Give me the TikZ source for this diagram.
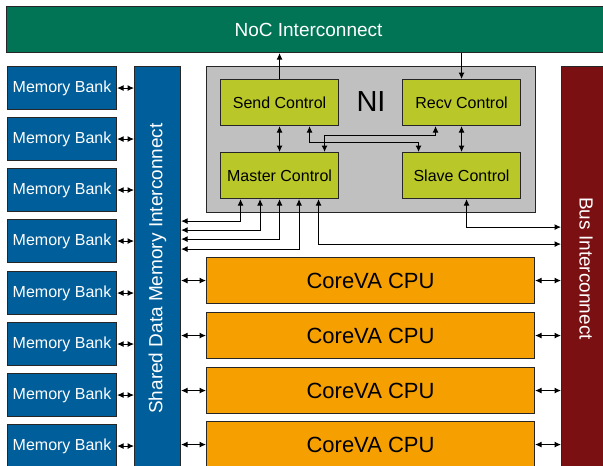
\documentclass[tikz,border=0pt]{standalone}
\usepackage{fontspec}
\setmainfont{Liberation Sans}
\setsansfont{Liberation Sans}
\usepackage{tikz}
\usetikzlibrary{arrows.meta,positioning,calc}
\definecolor{nocgreen}{RGB}{0,116,84}
\definecolor{bankblue}{RGB}{0,94,154}
\definecolor{busred}{RGB}{122,16,18}
\definecolor{nigray}{RGB}{192,192,192}
\definecolor{ctrlgreen}{RGB}{185,200,40}
\definecolor{cpuorange}{RGB}{245,160,0}
\tikzset{
  block/.style = {draw=black!85, line width=1.1pt, inner sep=0pt, anchor=north west, align=center},
  bank/.style = {block, fill=bankblue, text=white, minimum width=109pt, minimum height=43pt, font=\sffamily\fontsize{16}{19}\selectfont},
  ctrl/.style = {block, fill=ctrlgreen, minimum width=118pt, minimum height=46pt, font=\sffamily\fontsize{16}{19}\selectfont},
  cpu/.style = {block, fill=cpuorange, minimum width=328pt, minimum height=46pt, font=\sffamily\fontsize{22}{26}\selectfont},
  bigtext/.style = {font=\sffamily\fontsize{19}{23}\selectfont, text=white, inner sep=0pt},
}

\begin{document}
\begin{tikzpicture}[x=1pt, y=-1pt, >={Latex[length=6.5pt,width=6pt]}, line width=1pt]
\useasboundingbox (0,0) rectangle (603,466);

% interconnects
\node[block, fill=nocgreen, minimum width=604pt, minimum height=46pt, text=white, font=\sffamily\fontsize{19}{23}\selectfont] (noc) at (6,6) {NoC Interconnect};
\node[block, fill=bankblue, minimum width=46pt, minimum height=404pt] (shared) at (134,66) {};
\node[bigtext, rotate=90] (sharedtext) at (shared.center) {Shared Data Memory Interconnect};
\node[block, fill=busred, minimum width=49pt, minimum height=404pt] (bus) at (561,66) {};
\node[bigtext, rotate=-90] (bustext) at (bus.center) {Bus Interconnect};

% memory banks
\node[bank] (bank1) at (7,66) {Memory Bank};
\node[bank] (bank2) at (7,117) {Memory Bank};
\node[bank] (bank3) at (7,168) {Memory Bank};
\node[bank] (bank4) at (7,219) {Memory Bank};
\node[bank] (bank5) at (7,271) {Memory Bank};
\node[bank] (bank6) at (7,322) {Memory Bank};
\node[bank] (bank7) at (7,373) {Memory Bank};
\node[bank] (bank8) at (7,424) {Memory Bank};

% network interface
\node[block, fill=nigray, minimum width=329pt, minimum height=146pt] (ni) at (206,66) {};
\node[inner sep=0pt, font=\sffamily\fontsize{29}{34}\selectfont] (nitext) at (371,102) {NI};
\node[ctrl] (send) at (220,79) {Send Control};
\node[ctrl] (recv) at (402,79) {Recv Control};
\node[ctrl] (master) at (220,152) {Master Control};
\node[ctrl] (slave) at (402,152) {Slave Control};

% cores
\node[cpu] (cpu1) at (206,257) {CoreVA CPU};
\node[cpu] (cpu2) at (206,312) {CoreVA CPU};
\node[cpu] (cpu3) at (206,367) {CoreVA CPU};
\node[cpu] (cpu4) at (206,421) {CoreVA CPU};

\foreach \b in {bank1,bank2,bank3,bank4,bank5,bank6,bank7,bank8}
  \draw[<->] (\b.east) -- (\b.east -| shared.west);
\foreach \c in {cpu1,cpu2,cpu3,cpu4}{
  \draw[<->] (\c.west -| shared.east) -- (\c.west);
  \draw[<->] (\c.east) -- (\c.east -| bus.west);
}

\draw[->] (send.north) -- (send.north |- noc.south);
\draw[->] (recv.north |- noc.south) -- (recv.north);
\draw[<->] (send) -- (master);
\draw[<->] (recv) -- (slave);
\draw[<->] ([xshift=30pt]send.south) -- ++(0,16) -| ([xshift=-43pt]slave.north);
\draw[<->] ([xshift=45pt]master.north) -- ++(0,-17) -| ([xshift=-26pt]recv.south);

\foreach \dx/\dy in {-39/22, -19.5/31, 0/40, 19.5/50}
  \draw[<->] ([xshift=\dx pt]master.south) -- ++(0,\dy) coordinate (t) -- (t -| shared.east);
\draw[<->] ([xshift=39pt]master.south) -- ++(0,45) coordinate (u) -- (u -| bus.west);
\draw[<->] ([xshift=5pt]slave.south) -- ++(0,28) coordinate (v) -- (v -| bus.west);
\end{tikzpicture}
\end{document}
